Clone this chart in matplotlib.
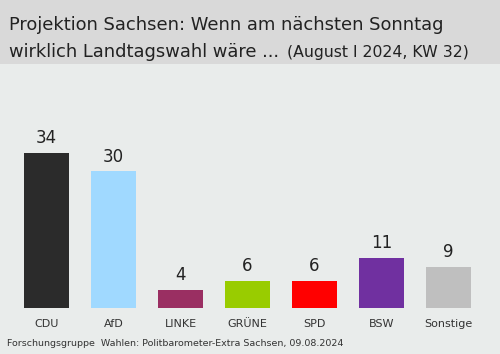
import matplotlib
matplotlib.use("Agg")
import matplotlib.pyplot as plt
from matplotlib.patches import Rectangle

parties = ["CDU", "AfD", "LINKE", "GRÜNE", "SPD", "BSW", "Sonstige"]
values = [34, 30, 4, 6, 6, 11, 9]
colors = ["#2b2b2b", "#a0d9ff", "#9a2f62", "#99cc00", "#ff0000", "#7030a0", "#bfbfbf"]

W, H = 500, 354
fig = plt.figure(figsize=(W / 100, H / 100), dpi=100)
fig.patch.set_facecolor("#e9eceb")
plt.rcParams['font.family'] = ['DejaVu Sans']

# header band
fig.patches.append(Rectangle((0, 1 - 64 / H), 1, 64 / H, transform=fig.transFigure,
                             facecolor="#d9d9d9", edgecolor="none", zorder=0))

ax_bottom = 308
ax_top = 64
ax = fig.add_axes([0, 1 - ax_bottom / H, 1, (ax_bottom - ax_top) / H])
ax.set_facecolor("none")
x = list(range(len(parties)))
ax.bar(x, values, width=45 / 67, color=colors)
ax.set_xlim(-46.5 / 67, (W - 46.5) / 67)
ax.set_ylim(0, (ax_bottom - ax_top) / 4.56)
for xi, v in zip(x, values):
    ax.annotate(str(v), (xi, v), xytext=(0, 4), textcoords="offset points",
                ha="center", va="bottom", fontsize=12, color="#222222")
ax.set_xticks(x)
ax.set_xticklabels(parties, fontsize=8, color="#333333")
ax.tick_params(axis="x", length=0, pad=8)
ax.set_yticks([])
for s in ax.spines.values():
    s.set_visible(False)

fig.text(9 / W, 1 - 30 / H, "Projektion Sachsen: Wenn am nächsten Sonntag",
         fontsize=12.9, color="#222222", va="baseline", ha="left")
fig.text(9 / W, 1 - 57 / H, "wirklich Landtagswahl wäre ... ",
         fontsize=12.9, color="#222222", va="baseline", ha="left")
fig.text(287 / W, 1 - 57 / H, "(August I 2024, KW 32)",
         fontsize=11.3, color="#222222", va="baseline", ha="left")
fig.text(7 / W, 1 - 346 / H,
         "Forschungsgruppe  Wahlen: Politbarometer-Extra Sachsen, 09.08.2024",
         fontsize=6.8, color="#333333", va="baseline", ha="left")

fig.savefig("out.png", dpi=100, facecolor=fig.get_facecolor())
